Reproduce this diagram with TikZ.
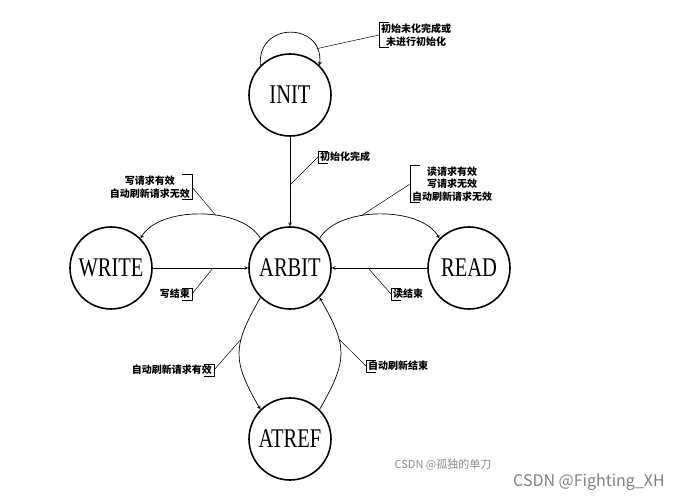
\documentclass[tikz,border=0pt]{standalone}
\usepackage{fontspec}
\setmainfont{Liberation Serif}
\newfontfamily\cjk{Noto Sans CJK SC}

\begin{document}
\begin{tikzpicture}[x=1pt, y=1pt, >=stealth,
        state/.style={circle, draw, line width=1.6pt, minimum size=82pt, inner sep=0pt, font=\fontsize{27}{27}\selectfont},
        note/.style={font=\cjk\bfseries\fontsize{10}{12.5}\selectfont, align=center, inner xsep=2pt, inner ysep=1pt},
        link/.style={->, line width=0.7pt},
        lead/.style={line width=0.5pt},
        wmark/.style={font=\cjk, inner sep=0pt}]
        \useasboundingbox (0,0) rectangle (678,500);
        % states
        \node[state] (init) at (290,405) {\scalebox{0.76}[1]{INIT}};
        \node[state] (arbit) at (290,232) {\scalebox{0.76}[1]{ARBIT}};
        \node[state] (write) at (111,232) {\scalebox{0.76}[1]{WRITE}};
        \node[state] (read) at (469,232) {\scalebox{0.76}[1]{READ}};
        \node[state] (atref) at (290,61) {\scalebox{0.76}[1]{ATREF}};
        % transitions
        \draw[link] (init.135) .. controls +(-4,44) and +(4,44) .. (init.45) coordinate[pos=0.85] (ploop);
        \draw[link] (init) -- (arbit) coordinate[pos=0.54] (pdone);
        \draw[link] (arbit.135) to[out=120, in=60, looseness=0.8] coordinate[pos=0.4] (pwrite) (write.45);
        \draw[link] (arbit.45) to[out=60, in=120, looseness=0.8] coordinate[pos=0.38] (pread) (read.135);
        \draw[link] (write) -- (arbit) coordinate[pos=0.63] (pwrend);
        \draw[link] (read) -- (arbit) coordinate[pos=0.62] (prdend);
        \draw[link] (arbit.225) to[out=240, in=120, looseness=1.3] coordinate[pos=0.35] (prfreq) (atref.135);
        \draw[link] (atref.45) to[out=60, in=300, looseness=1.3] coordinate[pos=0.65] (prfend) (arbit.315);
        % notes
        \node[note, anchor=west] (lbinit) at (379,465) {初始未化完成或\\未进行初始化};
        \node[note, anchor=west] (lbdone) at (318,343) {初始化完成};
        \node[note, anchor=east] (lbwrite) at (192,313) {写请求有效\\自动刷新请求无效};
        \node[note, anchor=west] (lbread) at (410,316) {读请求有效\\写请求无效\\自动刷新请求无效};
        \node[note, anchor=east] (lbwrend) at (192,206) {写结束};
        \node[note, anchor=west] (lbrdend) at (391,206) {读结束};
        \node[note, anchor=east] (lbrfreq) at (214,130) {自动刷新请求有效};
        \node[note, anchor=west] (lbrfend) at (366,134) {自动刷新结束};
        \foreach \n in {lbinit, lbdone, lbread, lbrdend, lbrfend}
            \draw[lead] ([xshift=10pt]\n.north west) -- (\n.north west) -- (\n.south west) -- ([xshift=10pt]\n.south west);
        \foreach \n in {lbwrite, lbwrend, lbrfreq}
            \draw[lead] ([xshift=-10pt]\n.north east) -- (\n.north east) -- (\n.south east) -- ([xshift=-10pt]\n.south east);
        \draw[lead] (ploop) -- (lbinit.west);
        \draw[lead] (pdone) -- (lbdone.west);
        \draw[lead] (pwrite) -- (lbwrite.east);
        \draw[lead] (pread) -- (lbread.west);
        \draw[lead] (pwrend) -- (lbwrend.east);
        \draw[lead] (prdend) -- (lbrdend.west);
        \draw[lead] (prfreq) -- (lbrfreq.east);
        \draw[lead] (prfend) -- (lbrfend.west);
        % watermarks
        \node[wmark, text=black!45, font=\cjk\fontsize{11}{11}\selectfont] (wmone) at (443,35) {CSDN @孤独的单刀};
        \node[wmark, text=black!50, font=\cjk\fontsize{16}{16}\selectfont] (wmtwo) at (589,18) {CSDN @Fighting\_XH};
\end{tikzpicture}
\end{document}
